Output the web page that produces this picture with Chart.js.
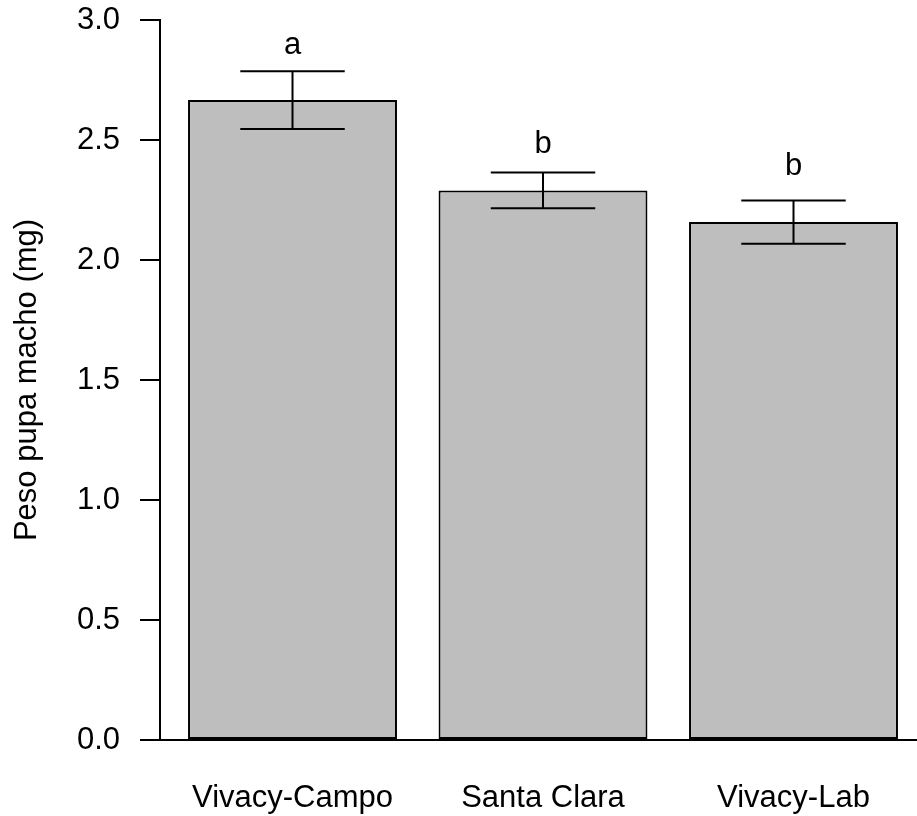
<!DOCTYPE html>
<html>
<head>
<meta charset="utf-8">
<script src="https://cdn.jsdelivr.net/npm/chart.js@4.4.0/dist/chart.umd.min.js"></script>
<style>
html,body{margin:0;padding:0;background:#fff;overflow:hidden;}
#wrap{width:917px;height:816px;position:relative;}
</style>
</head>
<body>
<div id="wrap"><canvas id="c" width="917" height="816"></canvas></div>
<script>
const categories = ["Vivacy-Campo", "Santa Clara", "Vivacy-Lab"];
const means = [2.667, 2.290, 2.158];
const upper = [2.786, 2.365, 2.248];
const lower = [2.546, 2.216, 2.068];
const letters = ["a", "b", "b"];
const letterY = [2.858, 2.446, 2.354];
const yTicks = [0, 0.5, 1.0, 1.5, 2.0, 2.5, 3.0];
const yTitle = "Peso pupa macho (mg)";

const FONT = "'Liberation Sans', Arial, Helvetica, sans-serif";
const FS = 31;

const errorPlugin = {
  id: 'errs',
  afterDatasetsDraw(chart) {
    const ctx = chart.ctx;
    const meta = chart.getDatasetMeta(0);
    const ys = chart.scales.y;
    ctx.save();
    ctx.strokeStyle = '#000';
    ctx.lineWidth = 2;
    ctx.fillStyle = '#000';
    ctx.font = FS + "px " + FONT;
    ctx.textAlign = 'center';
    ctx.textBaseline = 'alphabetic';
    meta.data.forEach((bar, i) => {
      const x = bar.x;
      const half = bar.width / 4;
      const yu = ys.getPixelForValue(upper[i]);
      const yl = ys.getPixelForValue(lower[i]);
      ctx.beginPath();
      ctx.moveTo(x, yu); ctx.lineTo(x, yl);
      ctx.moveTo(x - half, yu); ctx.lineTo(x + half, yu);
      ctx.moveTo(x - half, yl); ctx.lineTo(x + half, yl);
      ctx.stroke();
      ctx.fillText(letters[i], x, ys.getPixelForValue(letterY[i]));
    });
    ctx.restore();
  }
};

new Chart(document.getElementById('c'), {
  type: 'bar',
  data: {
    datasets: [{
      data: means.map((v, i) => ({x: i, y: v})),
      backgroundColor: '#BEBEBE',
      borderColor: '#000',
      borderWidth: 2,
      borderSkipped: false,
      categoryPercentage: 1,
      barPercentage: 0.834
    }]
  },
  options: {
    responsive: false,
    animation: false,
    layout: {padding: {top: 20, right: 0, bottom: 0, left: 0}},
    plugins: {legend: {display: false}, tooltip: {enabled: false}},
    scales: {
      x: {
        type: 'linear',
        min: -0.529,
        max: 2.493,
        offset: false,
        afterBuildTicks(s) { s.ticks = categories.map((c, i) => ({value: i})); },
        afterFit(s) { s.height = 76; s.paddingLeft = 0; s.paddingRight = 0; },
        ticks: {
          autoSkip: false,
          maxRotation: 0,
          padding: 40,
          color: '#000',
          font: {family: FONT, size: FS},
          callback: (v) => categories[v]
        },
        grid: {display: false, drawTicks: false},
        border: {display: true, color: '#000', width: 2}
      },
      y: {
        min: 0,
        max: 3,
        afterBuildTicks(s) { s.ticks = yTicks.map(v => ({value: v})); },
        afterFit(s) { s.width = 160; s.paddingTop = 0; s.paddingBottom = 0; },
        ticks: {
          padding: 20,
          color: '#000',
          font: {family: FONT, size: FS},
          callback: (v) => v.toFixed(1)
        },
        grid: {display: true, drawOnChartArea: false, drawTicks: true, tickLength: 20, color: '#000', lineWidth: 2},
        border: {display: true, color: '#000', width: 2},
        title: {
          display: true,
          text: yTitle,
          color: '#000',
          font: {family: FONT, size: FS},
          padding: {top: 9, bottom: 0}
        }
      }
    }
  },
  plugins: [errorPlugin]
});
</script>
</body>
</html>
